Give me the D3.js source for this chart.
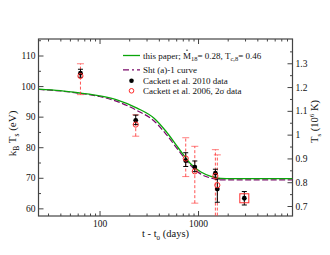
<!DOCTYPE html>
<html>
<head>
<meta charset="utf-8">
<script src="https://cdn.jsdelivr.net/npm/d3@7"></script>
<style>
  body { margin: 0; background: #fff; }
  svg text { font-family: "Liberation Serif", "DejaVu Serif", serif; fill: #111; }
</style>
</head>
<body>
<svg id="chart" width="330" height="255"></svg>
<script>
// Model curves (t - t0 in days, kT in eV)
const curveDays = [24, 40, 64, 100, 150, 240, 360, 470, 640, 840, 1070, 1350, 1700, 2200, 9100];
const thisPaper = [99.0, 98.5, 97.7, 96.8, 95.5, 92.8, 89.4, 85.3, 79.5, 74.6, 71.9, 70.5, 69.8, 69.7, 69.7];
const shtCurve = [98.9, 98.4, 97.6, 96.6, 95.0, 92.0, 88.5, 84.4, 78.8, 74.1, 71.2, 69.9, 69.3, 69.3, 69.3];

// Cackett et al. 2010 data
const c10Days = [64, 233, 750, 927, 1500, 1570, 2950];
const c10kT = [104.2, 88.8, 75.6, 73.5, 71.5, 66.3, 63.3];
const c10Lo = [102.9, 87.4, 73.7, 72.0, 70.2, 62.0, 61.1];
const c10Hi = [105.5, 90.5, 78.2, 75.5, 72.8, 69.6, 65.5];

// Cackett et al. 2006, 2 sigma data
const c06Days = [64, 233, 750, 927, 1500, 1570];
const c06kT = [103.3, 87.4, 76.3, 72.1, 70.6, 67.6];
const c06Lo = [97.2, 83.6, 70.4, 61.7, 56.0, 56.0];
const c06Hi = [107.3, 90.6, 83.1, 80.3, 79.2, 77.5];

// separate marker at the last epoch
const sqDays = [2950];
const sqkT = [63.3];

const xTickLabels = [100, 1000];
const yTicks = [60, 70, 80, 90, 100, 110];
const y2Ticks = [0.7, 0.8, 0.9, 1.0, 1.1, 1.2, 1.3];

const L = 38.5, R = 292.5, T = 39, B = 216;
const svg = d3.select('#chart');

const x = d3.scaleLog().domain([24, 9100]).range([L, R]);
const y = d3.scaleLinear().domain([57.5, 115.4]).range([B, T]);
const y2 = d3.scaleLinear().domain([0.658, 1.402]).range([B, T]);

const defs = svg.append('defs');
defs.append('clipPath').attr('id', 'clip')
  .append('rect').attr('x', L).attr('y', T).attr('width', R - L).attr('height', B - T);

// ---- axes (ticks pointing inward) ----
const axisColor = '#444';
const xMinor = x.ticks().filter(v => !xTickLabels.includes(v));

function styleAxis(g) {
  g.select('.domain').remove();
  g.selectAll('line').attr('stroke', axisColor).attr('stroke-width', 1);
  g.selectAll('text').attr('font-size', 9.5).attr('fill', '#111');
}

// bottom
svg.append('g').attr('transform', `translate(0,${B})`)
  .call(d3.axisBottom(x).tickValues(xTickLabels).tickSize(-5).tickPadding(4).tickFormat(d3.format('d')))
  .call(styleAxis);
svg.append('g').attr('transform', `translate(0,${B})`)
  .call(d3.axisBottom(x).tickValues(xMinor).tickSize(-2.5).tickFormat(''))
  .call(styleAxis);
// top (mirror)
svg.append('g').attr('transform', `translate(0,${T})`)
  .call(d3.axisTop(x).tickValues(xTickLabels).tickSize(-5).tickFormat(''))
  .call(styleAxis);
svg.append('g').attr('transform', `translate(0,${T})`)
  .call(d3.axisTop(x).tickValues(xMinor).tickSize(-2.5).tickFormat(''))
  .call(styleAxis);

// left
svg.append('g').attr('transform', `translate(${L},0)`)
  .call(d3.axisLeft(y).tickValues(yTicks).tickSize(-5).tickPadding(3))
  .call(styleAxis);
svg.append('g').attr('transform', `translate(${L},0)`)
  .call(d3.axisLeft(y).tickValues(yTicks.map(v => v + 5).filter(v => v < 115.4)).tickSize(-2.5).tickFormat(''))
  .call(styleAxis);

// right
svg.append('g').attr('transform', `translate(${R},0)`)
  .call(d3.axisRight(y2).tickValues(y2Ticks).tickSize(-5).tickPadding(3).tickFormat(d => d === 1 ? '1' : d3.format('.1f')(d)))
  .call(styleAxis);
svg.append('g').attr('transform', `translate(${R},0)`)
  .call(d3.axisRight(y2).tickValues([0.75, 0.85, 0.95, 1.05, 1.15, 1.25, 1.35]).tickSize(-2.5).tickFormat(''))
  .call(styleAxis);

// frame
svg.append('rect').attr('x', L).attr('y', T).attr('width', R - L).attr('height', B - T)
  .attr('fill', 'none').attr('stroke', axisColor).attr('stroke-width', 1.2);

// ---- axis titles ----
svg.append('text')
  .attr('transform', `translate(16,${(T + B) / 2 + 6}) rotate(-90)`)
  .attr('text-anchor', 'middle').attr('font-size', 11)
  .call(t => {
    t.append('tspan').text('k');
    t.append('tspan').attr('font-size', 7.5).attr('dy', 3).text('B');
    t.append('tspan').attr('dy', -3).text(' T');
    t.append('tspan').attr('font-size', 7.5).attr('dy', 3).text('s');
    t.append('tspan').attr('dy', -3).text(' (eV)');
  });

svg.append('text')
  .attr('transform', `translate(318,${(T + B) / 2 - 6}) rotate(-90)`)
  .attr('text-anchor', 'middle').attr('font-size', 10.5)
  .call(t => {
    t.append('tspan').text('T');
    t.append('tspan').attr('font-size', 7).attr('dy', 3).text('s');
    t.append('tspan').attr('dy', -3).text(' (10');
    t.append('tspan').attr('font-size', 7).attr('dy', -4).text('6');
    t.append('tspan').attr('dy', 4).text(' K)');
  });

svg.append('text')
  .attr('x', (L + R) / 2).attr('y', 237)
  .attr('text-anchor', 'middle').attr('font-size', 10.5)
  .call(t => {
    t.append('tspan').text('t - t');
    t.append('tspan').attr('font-size', 7).attr('dy', 2.5).text('0');
    t.append('tspan').attr('dy', -2.5).text(' (days)');
  });

// ---- plot content ----
const plot = svg.append('g').attr('clip-path', 'url(#clip)');
const green = '#0aa50a', purple = '#7a0a6a', red = '#ff2a2a';

const line = vals => d3.line()
  .x((d, i) => x(curveDays[i]))
  .y(d => y(d))
  .curve(d3.curveMonotoneX)(vals);

plot.append('path').attr('d', line(shtCurve))
  .attr('fill', 'none').attr('stroke', purple).attr('stroke-width', 1.2)
  .attr('stroke-dasharray', '6,2.5');
plot.append('path').attr('d', line(thisPaper))
  .attr('fill', 'none').attr('stroke', green).attr('stroke-width', 1.3);

// 2006 2 sigma error bars (dashed red)
c06Days.forEach((dd, i) => {
  const cx = x(dd);
  plot.append('line').attr('x1', cx).attr('x2', cx).attr('y1', y(c06Lo[i])).attr('y2', y(c06Hi[i]))
    .attr('stroke', red).attr('stroke-width', 1).attr('stroke-dasharray', '3,2').attr('opacity', 0.8);
  [c06Lo[i], c06Hi[i]].forEach(v => {
    plot.append('line').attr('x1', cx - 3.5).attr('x2', cx + 3.5).attr('y1', y(v)).attr('y2', y(v))
      .attr('stroke', red).attr('stroke-width', 1).attr('opacity', 0.6);
  });
});

// 2010 error bars (black)
c10Days.forEach((dd, i) => {
  const cx = x(dd);
  plot.append('line').attr('x1', cx).attr('x2', cx).attr('y1', y(c10Lo[i])).attr('y2', y(c10Hi[i]))
    .attr('stroke', '#000').attr('stroke-width', 1);
  [c10Lo[i], c10Hi[i]].forEach(v => {
    plot.append('line').attr('x1', cx - 2.5).attr('x2', cx + 2.5).attr('y1', y(v)).attr('y2', y(v))
      .attr('stroke', '#000').attr('stroke-width', 1);
  });
});

// red square marker
plot.selectAll('.sq').data(sqDays).join('rect').attr('class', 'sq')
  .attr('x', d => x(d) - 4.5).attr('y', (d, i) => y(sqkT[i]) - 4.5)
  .attr('width', 9).attr('height', 9)
  .attr('fill', 'none').attr('stroke', red).attr('stroke-width', 1);

// points
plot.selectAll('.p10').data(c10Days).join('circle').attr('class', 'p10')
  .attr('cx', d => x(d)).attr('cy', (d, i) => y(c10kT[i])).attr('r', 2.4).attr('fill', '#000');
plot.selectAll('.p06').data(c06Days).join('circle').attr('class', 'p06')
  .attr('cx', d => x(d)).attr('cy', (d, i) => y(c06kT[i])).attr('r', 2.6)
  .attr('fill', 'none').attr('stroke', red).attr('stroke-width', 1);

// ---- legend ----
const lg = svg.append('g').attr('font-size', 9);
const lx1 = 123, lx2 = 140, tx = 143;
lg.append('line').attr('x1', lx1).attr('x2', lx2).attr('y1', 55.5).attr('y2', 55.5)
  .attr('stroke', green).attr('stroke-width', 1.3);
const t1 = lg.append('text').attr('x', tx).attr('y', 58.5);
t1.append('tspan').text('this paper; ');
const mDot = t1.append('tspan').text('M');
t1.append('tspan').attr('font-size', 6.5).attr('dy', 2.5).text('18');
t1.append('tspan').attr('dy', -2.5).text('= 0.28, T');
t1.append('tspan').attr('font-size', 6.5).attr('dy', 2.5).text('c,8');
t1.append('tspan').attr('dy', -2.5).text('= 0.46');
// dot over the M
const mBox = mDot.node().getExtentOfChar ? mDot.node().getExtentOfChar(0) : null;
if (mBox) {
  lg.append('circle').attr('cx', mBox.x + mBox.width / 2).attr('cy', 50.3).attr('r', 0.7).attr('fill', '#111');
}
lg.append('line').attr('x1', lx1).attr('x2', lx2).attr('y1', 69.8).attr('y2', 69.8)
  .attr('stroke', purple).attr('stroke-width', 1.2).attr('stroke-dasharray', '6,3,2,3');
lg.append('text').attr('x', tx).attr('y', 72.8).text('Sht (a)-1 curve');
lg.append('circle').attr('cx', 131.5).attr('cy', 80.8).attr('r', 2.3).attr('fill', '#000');
lg.append('text').attr('x', tx).attr('y', 83.8).text('Cackett et al. 2010 data');
lg.append('circle').attr('cx', 131.5).attr('cy', 90.8).attr('r', 2.3)
  .attr('fill', 'none').attr('stroke', red).attr('stroke-width', 1);
lg.append('text').attr('x', tx).attr('y', 93.8).text('Cackett et al. 2006, 2\u03C3 data');
</script>
</body>
</html>
